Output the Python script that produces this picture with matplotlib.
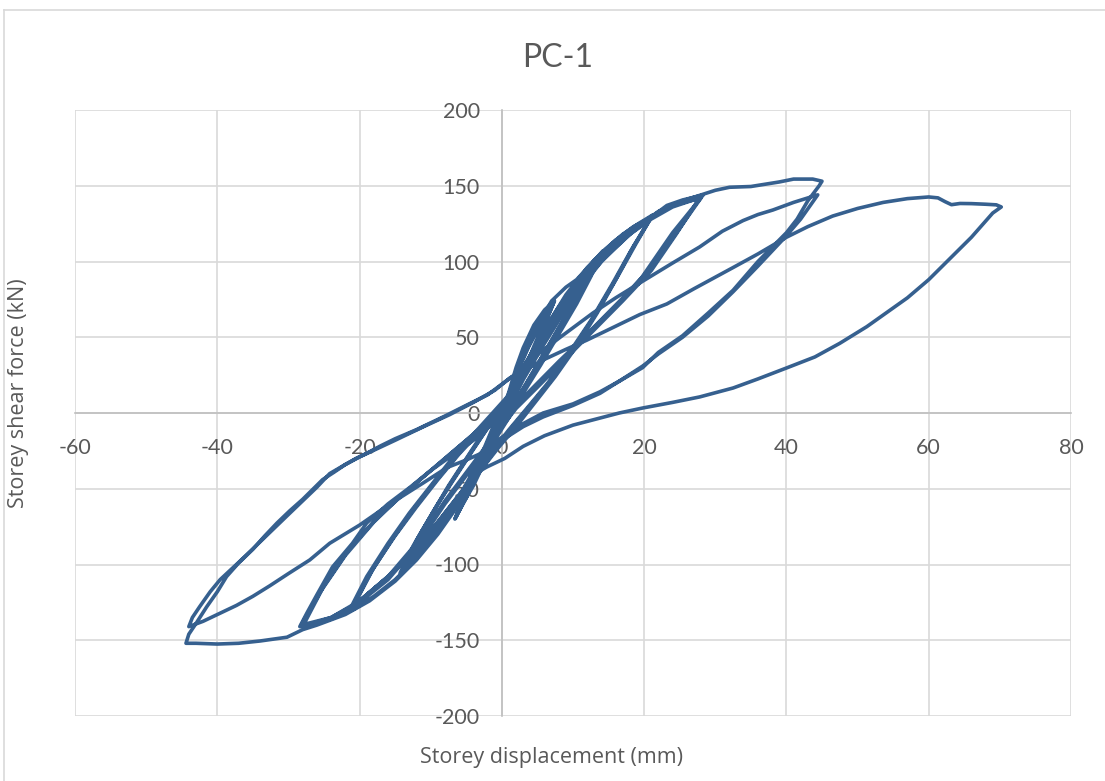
import matplotlib
matplotlib.use("Agg")
import matplotlib.pyplot as plt
from matplotlib.lines import Line2D

plt.rcParams['font.family'] = ['Lato', 'DejaVu Sans']

# ---------------- data (storey displacement mm, storey shear kN) ----------------
# 7 mm cycles
c7a_x = [0, 1, 2, 3, 4.5, 6, 7.4, 6, 4.5, 2.5, 0.8, -1, -2.5, -4, -5.5, -6.6, -5.2, -3.8, -2.2, -0.6]
c7a_y = [0, 14, 30, 43, 58, 68, 74, 60, 44, 20, 2, -18, -33, -48, -60, -70, -55, -38, -20, -2]
c7b_x = [0.6, 2, 3.5, 5, 6.5, 7.3, 5.8, 3.8, 1.8, 0.2, -1.5, -3.2, -5, -6.5, -5, -3.4, -1.8, -0.4]
c7b_y = [8, 26, 42, 56, 67, 73, 56, 35, 14, -3, -21, -38, -56, -69, -52, -35, -17, -3]
c7c_x = [0.7, 2.2, 3.8, 5.4, 6.8, 7.2, 5.6, 3.6, 1.6, 0, -1.8, -3.5, -5.2, -6.4, -4.8, -3, -1.4, 0]
c7c_y = [8, 27, 44, 58, 68, 72, 54, 33, 12, -5, -23, -40, -57, -68, -50, -31, -14, 0]

# 14 mm cycles
c14a_x = [1.5, 3, 5, 7, 9, 10.5, 12.5, 14.2, 12.5, 10.5, 8, 5.5, 3, 1, -1, -3, -5.5, -8, -10.5, -12.5,
          -14.3, -12.5, -10, -7.5, -5, -2.5, 0]
c14a_y = [18, 38, 58, 74, 83, 88, 98, 107, 90, 72, 52, 32, 13, -3, -18, -34, -52, -70, -85, -96,
          -105.6, -88, -68, -48, -30, -12, 4]
c14b_x = [2, 4, 6, 8, 10, 12, 14, 12, 9.5, 7, 4.5, 2, 0, -2, -4.5, -7, -9.5, -12, -14,
          -12, -9.5, -7, -4.5, -2, 0.3]
c14b_y = [20, 38, 55, 70, 83, 94, 105, 88, 68, 48, 28, 8, -8, -24, -44, -63, -80, -94, -104,
          -84, -64, -45, -27, -10, 5]
c14c_x = [2, 4, 6.5, 9, 11.5, 13.8, 11.5, 9, 6.5, 4, 1.5, -0.5, -2.5, -5, -7.5, -10, -12, -13.8,
          -11.5, -9, -6.5, -4, -1.5, 0.5]
c14c_y = [20, 37, 57, 76, 91, 103, 84, 64, 44, 24, 4, -12, -28, -48, -66, -83, -94, -102,
          -80, -60, -42, -24, -6, 7]

# 21 mm cycles
c21a_x = [3, 6, 9, 12, 14.5, 17, 19.2, 21.2, 19, 16.5, 13.4, 10.5, 7.5, 4.5, 2, -0.5, -3, -6, -9, -12,
          -15, -18, -21.4, -19, -16, -13, -10, -7, -4, -1.5, 1]
c21a_y = [30, 55, 78, 96, 108, 118, 125, 130.7, 113, 92, 66, 44, 24, 6, -9, -23, -38, -56, -74, -90,
          -104, -116, -130, -108, -86, -66, -48, -30, -14, -1, 12]
c21b_x = [4, 7, 10, 13, 16, 18.5, 21, 18.5, 16, 13, 10, 7, 4, 1.5, -1, -4, -7, -10, -13, -16, -19, -21,
          -18.5, -15.5, -12.5, -9.5, -6.5, -3.5, -1, 1.5]
c21b_y = [35, 60, 82, 100, 114, 123, 129, 110, 88, 64, 42, 22, 5, -9, -24, -42, -60, -78, -94, -108, -120, -128,
          -106, -84, -64, -46, -29, -13, 0, 13]
c21c_x = [4, 7, 10, 13, 16, 18.5, 20.8, 18, 15.5, 12.5, 9.5, 6.5, 3.5, 1, -1.5, -4.5, -7.5, -10.5, -13.5,
          -16.5, -19, -20.8, -18, -15, -12, -9, -6, -3, -0.5, 2]
c21c_y = [36, 61, 83, 101, 114, 122, 128, 106, 85, 61, 40, 20, 3, -11, -26, -45, -63, -81, -97,
          -110, -120, -127, -102, -81, -62, -44, -27, -12, 1, 14]

# 28 mm cycles
c28a_x = [4, 8, 12, 16, 19, 21.5, 23.2, 25.4, 28.3, 24, 19.6, 16, 12, 8, 4, 1, -3, -6, -9, -12, -15, -18,
          -21, -24, -26.5, -28.4, -27.4, -26, -23.8, -21, -19, -16, -12.9, -10, -7, -4, -1, 1]
c28a_y = [34, 64, 90, 110, 122, 131, 137, 140.6, 143.9, 119, 89, 70, 52, 34, 15, 0, -30, -55, -78, -96, -110, -121,
          -130, -136, -139, -141, -132, -120, -101.6, -86, -72.6, -60, -49, -38, -28, -18, -6, 3]
c28b_x = [3, 6, 10, 14, 18, 21, 24, 28, 25, 21, 17, 13, 9, 5, 2, -1, -4, -8, -12, -16, -20, -24, -28.2,
          -25.5, -22, -18, -14, -10, -6, -3, 0]
c28b_y = [22, 46, 76, 100, 118, 129, 137, 142, 122, 96, 76, 57, 38, 19, 4, -14, -33, -58, -86, -108, -124, -135, -140,
          -118, -94, -72, -54, -38, -22, -10, 3]
c28c_x = [3, 6, 10, 14, 18, 21, 24, 27.8, 24.5, 21, 17, 13, 9, 5, 2, -1, -4, -8, -12, -16, -20, -24, -28,
          -25, -21.5, -17.5, -13.5, -9.5, -5.5, -2.5, 0]
c28c_y = [24, 48, 78, 101, 118, 128, 136, 142, 118, 94, 74, 55, 36, 17, 3, -15, -35, -60, -88, -110, -125, -135, -141,
          -114, -90, -69, -52, -36, -20, -8, 4]

# 44 mm cycle 1
c44a_x = [3, 7, 11, 15, 19, 22, 25.4, 28, 30, 32, 35, 39, 41, 43.7, 45, 44.6,
          43, 41.5, 40, 36, 32.5, 29, 25.4, 22, 19.8, 16.5, 13.8, 10, 5.8, 3, 0,
          -3, -6, -9, -12, -15, -18.6, -22, -26, -28, -30.2, -34, -37, -40, -43, -44.4,
          -44, -43, -41.5, -40, -38.7, -37, -35, -33.3, -31.6, -29.8, -28, -26.5, -25.2, -23.5, -22, -20.5,
          -19, -17, -15, -12, -10, -8, -4.9, -2, 0]
c44a_y = [30, 62, 88, 108, 123, 133, 140, 144, 147, 149, 149.5, 152.5, 154.4, 154.4, 153, 150,
          140, 128, 119, 100, 81, 66, 51, 40, 30, 21, 13, 5, -2.6, -9, -18,
          -38, -60, -80, -97, -111, -124, -133, -140, -143, -148, -150.5, -152, -152.5, -152, -152,
          -146, -139, -128, -118, -108, -99, -90, -81, -72.6, -64.5, -57, -50, -44, -38.8, -34, -30,
          -26.6, -21.6, -17, -11, -6.5, -2, 5.3, 12, 19]

# 44 mm cycle 2
c44b_x = [2, 4, 8.2, 12.8, 16, 19.8, 24, 27.8, 31, 33.9, 36, 38.1, 41, 44.4,
          43.5, 42, 40, 36, 32.5, 29, 25.4, 22, 19.8, 16.5, 13.8, 10, 5.8, 3, 0,
          -2.6, -5, -7.7, -11, -15.7, -20, -24.2, -27, -30, -32.6, -35, -37.3, -40, -42, -44,
          -43.5, -42.5, -41, -39.6, -38, -36.4, -34.2, -32, -30, -28, -26, -24.2, -22, -20, -17.5, -15, -13,
          -11, -7.3, -4, -1, 1.1]
c44b_y = [26, 35, 50, 66, 76, 87, 99, 109.6, 120, 127, 131, 134, 139, 144,
          138, 128, 117, 97, 80, 64, 50, 39, 31, 21, 14, 6, 0, -7, -16,
          -26, -31, -36, -46, -60, -74, -86, -97, -106, -114, -121, -127, -133, -137.5, -141,
          -135, -128, -118, -110, -103, -96, -86, -76, -67, -58, -49, -40, -34, -29, -23.5, -18, -13.5,
          -9, -1, 7, 15, 23]

# 70 mm half cycle
c70_x = [3, 5.8, 9, 11.9, 15, 19.4, 23.2, 27, 32.5, 36, 40, 43, 46.5, 50, 53.6, 57, 60, 61.3, 62.3, 63.2,
         64.4, 66, 68, 69.5, 70.2,
         69, 66, 63, 60, 57, 54, 51.3, 47.5, 44, 40, 36, 32.5, 27.8, 24, 19.8, 16.5, 13.8, 10, 6, 3, 0.4,
         -2.1, -4.5]
c70_y = [28, 35, 42, 48, 55, 65, 72, 82, 96, 105, 116, 123, 130, 135, 139, 141.5, 142.6, 142, 139.5, 137.5,
         138.3, 138.2, 137.8, 137.4, 136,
         132, 116, 102, 88, 76, 66, 57, 46, 37, 29.7, 22.5, 16.5, 10.6, 7, 3.3, 0, -3.3, -8, -15, -22, -30,
         -35.6, -42]

series_x = [c7a_x, c7b_x, c7c_x, c14a_x, c14b_x, c14c_x, c21a_x, c21b_x, c21c_x,
            c28a_x, c28b_x, c28c_x, c44a_x, c44b_x, c70_x]
series_y = [c7a_y, c7b_y, c7c_y, c14a_y, c14b_y, c14c_y, c21a_y, c21b_y, c21c_y,
            c28a_y, c28b_y, c28c_y, c44a_y, c44b_y, c70_y]

disp = []
force = []
for sx, sy in zip(series_x, series_y):
    disp += sx
    force += sy

x_ticks = [-60, -40, -20, 0, 20, 40, 60, 80]
y_ticks = [-200, -150, -100, -50, 0, 50, 100, 150, 200]

# ---------------- figure ----------------
W, H = 1105, 781
fig = plt.figure(figsize=(W / 100, H / 100), dpi=100)
fig.patch.set_facecolor('white')

left, right, top, bottom = 75, 1071, 110, 716
ax = fig.add_axes([left / W, 1 - bottom / H, (right - left) / W, (bottom - top) / H])
ax.set_xlim(-60, 80)
ax.set_ylim(-200, 200)
ax.set_xticks(x_ticks)
ax.set_yticks(y_ticks)
ax.set_xticklabels([str(t) for t in x_ticks])
ax.set_yticklabels([str(t) for t in y_ticks])
ax.grid(True, color='#d9d9d9', linewidth=1.2)
ax.set_axisbelow(True)

for s in ['top', 'right']:
    ax.spines[s].set_visible(False)
ax.spines['left'].set_position(('data', 0))
ax.spines['bottom'].set_position(('data', 0))
ax.spines['left'].set_color('#bfbfbf')
ax.spines['bottom'].set_color('#bfbfbf')
ax.spines['left'].set_linewidth(1.2)
ax.spines['bottom'].set_linewidth(1.2)
ax.tick_params(axis='both', length=0, labelsize=15.5, colors='#595959')
ax.tick_params(axis='y', pad=16)
ax.tick_params(axis='x', pad=18)

ax.plot(disp, force, color='#36608f', linewidth=2.6, solid_joinstyle='round',
        solid_capstyle='round', zorder=3)

fig.text(558 / W, 1 - 58 / H, 'PC-1', ha='center', va='center', fontsize=23, color='#595959')
fig.text(551 / W, 1 - 757 / H, 'Storey displacement (mm)', ha='center', va='center',
         fontsize=15.5, color='#595959', family=['Open Sans', 'DejaVu Sans'])
fig.text(19 / W, 1 - 393 / H, 'Storey shear force (kN)', ha='center', va='center',
         rotation=90, fontsize=15.5, color='#595959', family=['Open Sans', 'DejaVu Sans'])

# chart border (light grey)
fig.add_artist(Line2D([4 / W, 4 / W], [0, 1 - 10 / H], transform=fig.transFigure,
                      color='#d9d9d9', linewidth=1.2))
fig.add_artist(Line2D([4 / W, 1], [1 - 10 / H, 1 - 10 / H], transform=fig.transFigure,
                      color='#d9d9d9', linewidth=1.2))

fig.savefig('out.png', dpi=100, facecolor='white')
